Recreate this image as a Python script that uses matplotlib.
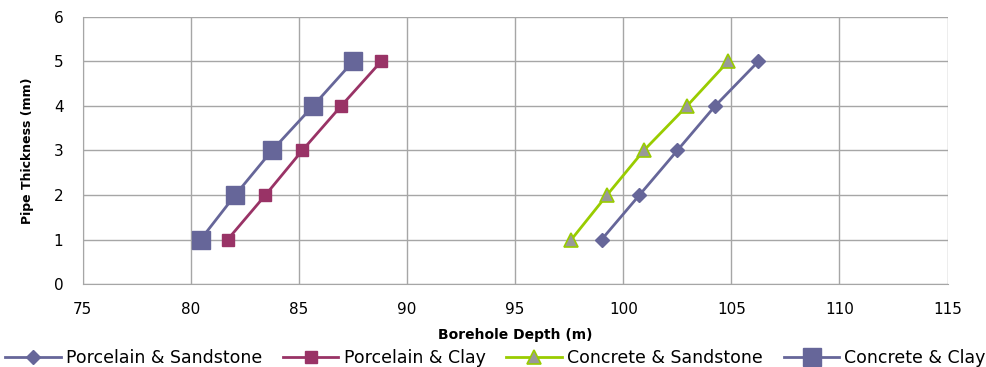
import numpy as np
import matplotlib.pyplot as plt

thickness = [1, 2, 3, 4, 5]
porcelain_sandstone = [99.0, 100.75, 102.5, 104.25, 106.25]
porcelain_clay = [81.7, 83.45, 85.15, 86.95, 88.8]
concrete_sandstone = [97.6, 99.25, 100.95, 102.95, 104.85]
concrete_clay = [80.45, 82.05, 83.75, 85.65, 87.5]

xticks = [75, 80, 85, 90, 95, 100, 105, 110, 115]
yticks = [0, 1, 2, 3, 4, 5, 6]

plt.rcParams['font.family'] = 'DejaVu Sans'
fig = plt.figure(figsize=(9.86, 3.67), dpi=100)
ax = fig.add_axes([0.084, 0.226, 0.877, 0.728])

ax.plot(porcelain_sandstone, thickness, color='#666699', lw=2, marker='D',
        ms=7, label='Porcelain & Sandstone')
ax.plot(porcelain_clay, thickness, color='#993366', lw=2, marker='s',
        ms=8, label='Porcelain & Clay')
ax.plot(concrete_sandstone, thickness, color='#99CC00', lw=2, marker='^',
        ms=10, mfc='#999999', mec='#99CC00', mew=1.2, label='Concrete & Sandstone')
ax.plot(concrete_clay, thickness, color='#666699', lw=2, marker='s',
        ms=13, label='Concrete & Clay')

ax.set_xlim(75, 115)
ax.set_ylim(0, 6)
ax.set_xticks(xticks)
ax.set_yticks(yticks)
ax.grid(True, color='#a6a6a6', lw=1)
ax.set_axisbelow(True)
for s in ['top', 'right']:
    ax.spines[s].set_visible(False)
for s in ['left', 'bottom']:
    ax.spines[s].set_color('#a6a6a6')
ax.tick_params(length=0, labelsize=11)
ax.tick_params(axis='x', pad=13)
ax.tick_params(axis='y', pad=14)

ax.set_xlabel('Borehole Depth (m)', fontsize=10, fontweight='bold', labelpad=8)
ax.set_ylabel('Pipe Thickness (mm)', fontsize=9, fontweight='bold', labelpad=14)

fig.legend(loc='lower center', bbox_to_anchor=(0.5025, -0.043), ncol=4, frameon=False,
           fontsize=12.5, handlelength=3.2, columnspacing=1.2, handletextpad=0.3)

fig.savefig('out.png', dpi=100)
